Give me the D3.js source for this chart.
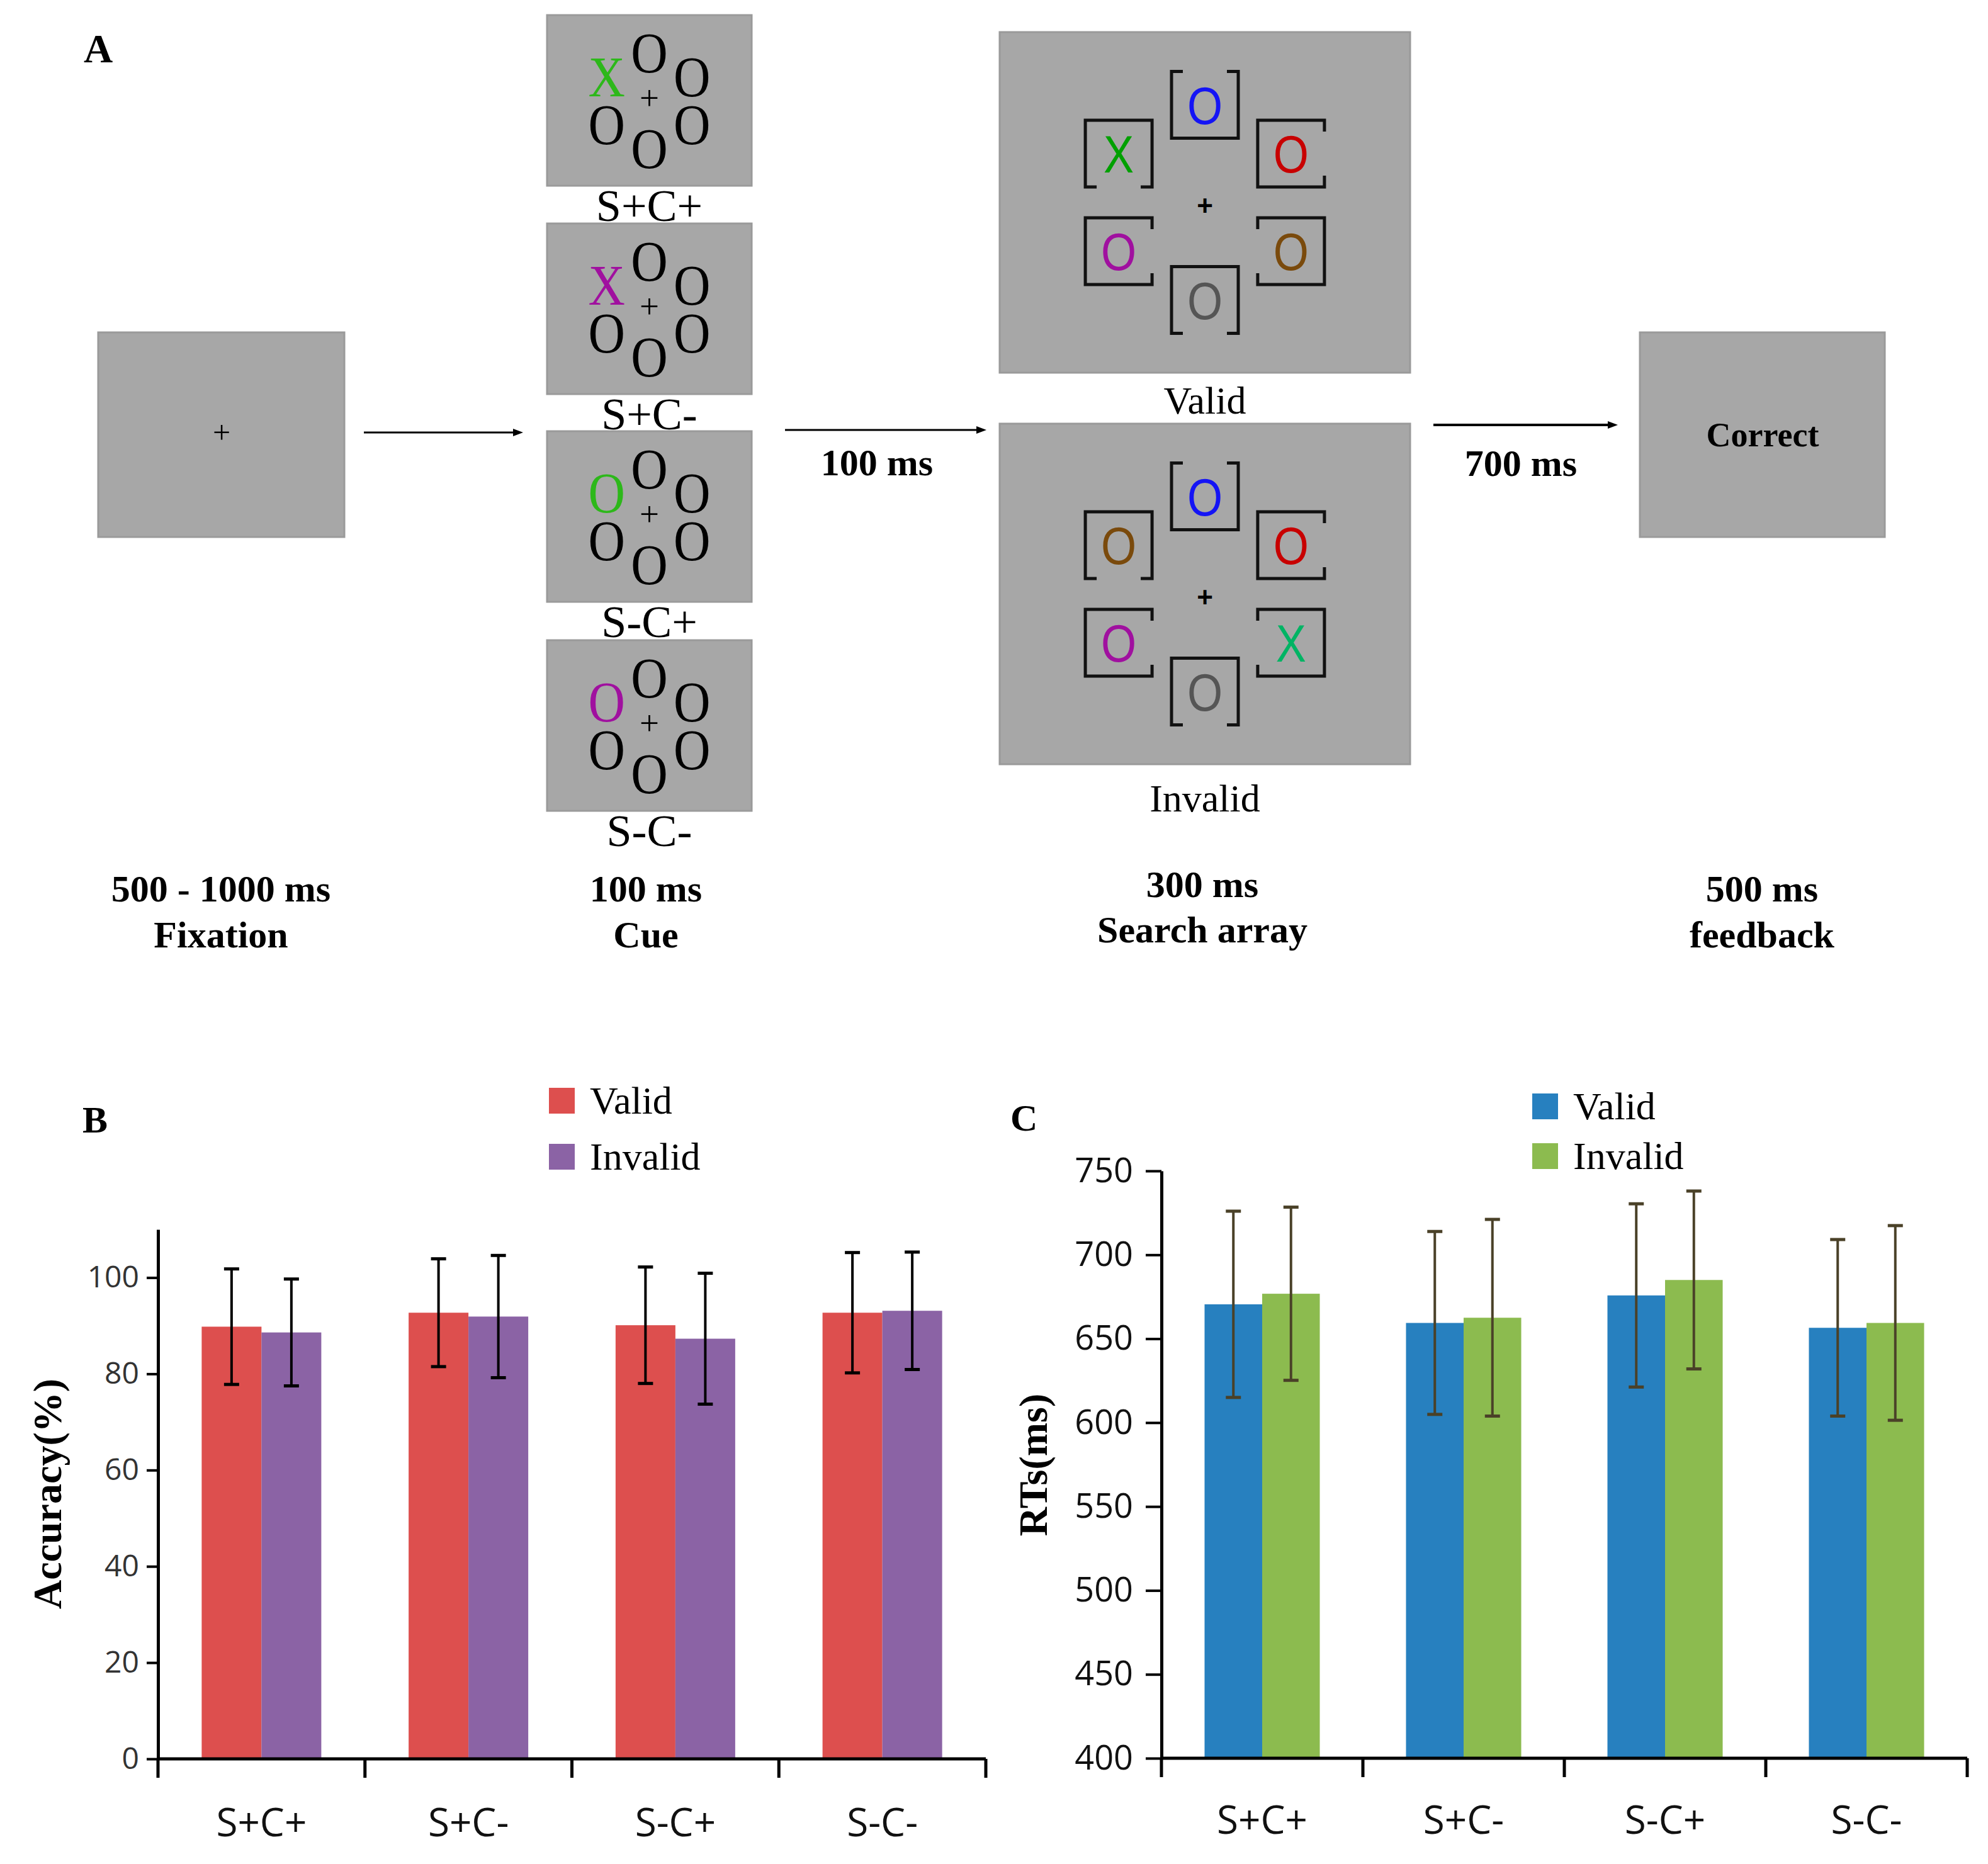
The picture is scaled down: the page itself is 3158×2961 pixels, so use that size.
<!DOCTYPE html>
<html>
<head>
<meta charset="utf-8">
<script src="https://cdn.jsdelivr.net/npm/d3@7"></script>
<style>
  body { margin: 0; background: #fff; }
  text { font-family: "Liberation Serif", "Times New Roman", serif; }
  text.sans { font-family: "Open Sans", "Noto Sans", sans-serif; }
  text.arial { font-family: "Liberation Sans", Arial, sans-serif; }
</style>
</head>
<body>
<div id="chart"></div>
<script>
// ---------- data ----------
const conditions = ["S+C+", "S+C-", "S-C+", "S-C-"];
const groups = ["Valid", "Invalid"];

// panel B: accuracy (%)
const accValid = [89.8, 92.7, 90.1, 92.7];
const accInvalid = [88.6, 91.9, 87.3, 93.1];
const accValidErr = [12.0, 11.2, 12.1, 12.5];
const accInvalidErr = [11.1, 12.7, 13.6, 12.2];
const accTicks = [0, 20, 40, 60, 80, 100];

// panel C: reaction times (ms)
const rtValid = [670.5, 659.4, 675.8, 656.5];
const rtInvalid = [676.8, 662.5, 685.0, 659.4];
const rtValidErr = [55.5, 54.5, 54.6, 52.6];
const rtInvalidErr = [51.6, 58.6, 53.0, 58.0];
const rtTicks = [400, 450, 500, 550, 600, 650, 700, 750];

// panel A: procedure
const stageTimes = ["500 - 1000 ms", "100 ms", "300 ms", "500 ms"];
const stageNames = ["Fixation", "Cue", "Search array", "feedback"];
const intervalLabels = ["100 ms", "700 ms"];
const cueTargetLetters = ["X", "X", "O", "O"];
const cueTargetColors = ["#2db81a", "#a0109f", "#2db81a", "#a0109f"];
const arrayNames = ["Valid", "Invalid"];
// hexagon order: top, upper-right, lower-right, bottom, lower-left, upper-left
const hexAngles = [90, 30, -30, -90, -150, 150];
const frameGaps = ["top", "right", "left", "bottom", "right", "bottom"];
const validLetters = ["O", "O", "O", "O", "O", "X"];
const validColors = ["#1414f5", "#c80000", "#7a4a0c", "#555555", "#a0109f", "#00a000"];
const invalidLetters = ["O", "O", "X", "O", "O", "O"];
const invalidColors = ["#1414f5", "#c80000", "#00b464", "#555555", "#a0109f", "#7a4a0c"];

// ---------- svg ----------
const W = 3158, H = 2961;
const svg = d3.select("#chart").append("svg")
    .attr("width", W)
    .attr("height", H);
svg.append("rect").attr("width", W).attr("height", H).attr("fill", "#fff");

const boxFill = "#a7a7a7", boxStroke = "#9a9a9a";

function grayBox(x, y, w, h) {
    svg.append("rect")
        .attr("x", x).attr("y", y).attr("width", w).attr("height", h)
        .attr("fill", boxFill).attr("stroke", boxStroke).attr("stroke-width", 3);
}

function arrow(x1, x2, y, sw) {
    svg.append("line")
        .attr("x1", x1).attr("x2", x2 - 12).attr("y1", y).attr("y2", y)
        .attr("stroke", "#000").attr("stroke-width", sw);
    svg.append("path")
        .attr("d", `M${x2},${y} L${x2 - 16},${y - 6} L${x2 - 16},${y + 6} Z`)
        .attr("fill", "#000");
}

function label(txt, x, y, size, bold, anchor) {
    return svg.append("text")
        .attr("x", x).attr("y", y)
        .attr("font-size", size)
        .attr("font-weight", bold ? "bold" : "normal")
        .attr("text-anchor", anchor || "middle")
        .attr("fill", "#000")
        .text(txt);
}

// ---------- panel A ----------
label("A", 133, 99, 64, true, "start");

// fixation
grayBox(156, 528, 391, 325);
label("+", 352, 692 + 12, 50, false);
arrow(578, 831, 687, 3);

// cue displays
const cueX = 869, cueW = 325, cueH = 271;
const cueTops = [24, 355, 685, 1017];
conditions.forEach((c, i) => {
    const y0 = cueTops[i];
    grayBox(cueX, y0, cueW, cueH);
    const cx = cueX + cueW / 2, cy = y0 + cueH / 2;
    label("+", cx, cy + 14, 55, false);
    hexAngles.forEach((a, k) => {
        const r = 76;
        const px = cx + r * 1.03 * Math.cos(a * Math.PI / 180);
        const py = cy - r * Math.sin(a * Math.PI / 180);
        const isTarget = k === 5;
        svg.append("text")
            .attr("transform", `translate(${px},${py + 31}) scale(0.88,1)`)
            .attr("font-size", 92)
            .attr("text-anchor", "middle")
            .attr("fill", isTarget ? cueTargetColors[i] : "#000")
            .text(isTarget ? cueTargetLetters[i] : "O");
    });
    label(c, cx, y0 + cueH + 56, 72, false);
});

arrow(1247, 1567, 683, 3);
label(intervalLabels[0], 1393, 755, 60, true);

// search arrays
function framePath(cx, cy, h, gap, side) {
    const c = [[cx - h, cy - h], [cx + h, cy - h], [cx + h, cy + h], [cx - h, cy + h]];
    const k = { top: 0, right: 1, bottom: 2, left: 3 }[side];
    const a = c[k], b = c[(k + 1) % 4];
    const mx = (a[0] + b[0]) / 2, my = (a[1] + b[1]) / 2;
    const dx = Math.sign(b[0] - a[0]), dy = Math.sign(b[1] - a[1]);
    const pts = [[mx + dx * gap / 2, my + dy * gap / 2]];
    for (let i = 1; i <= 4; i++) pts.push(c[(k + i) % 4]);
    pts.push([mx - dx * gap / 2, my - dy * gap / 2]);
    return d3.line()(pts);
}

const arrX = 1588, arrW = 652, arrH = 541;
const arrTops = [51, 673];
const arrLetters = [validLetters, invalidLetters];
const arrColors = [validColors, invalidColors];
const arrLabelY = [657, 1289];
arrayNames.forEach((name, j) => {
    const y0 = arrTops[j];
    grayBox(arrX, y0, arrW, arrH);
    const cx = arrX + arrW / 2, cy = y0 + arrH / 2;
    svg.append("text")
        .attr("class", "arial")
        .attr("x", cx).attr("y", cy + 20)
        .attr("font-size", 44).attr("font-weight", "bold")
        .attr("text-anchor", "middle").text("+");
    hexAngles.forEach((a, k) => {
        const r = 155;
        const px = cx + r * 1.02 * Math.cos(a * Math.PI / 180);
        const py = cy - r * Math.sin(a * Math.PI / 180);
        svg.append("path")
            .attr("d", framePath(px, py, 53, 70, frameGaps[k]))
            .attr("fill", "none").attr("stroke", "#111").attr("stroke-width", 5);
        svg.append("text")
            .attr("class", "arial")
            .attr("transform", `translate(${px},${py + 30}) scale(0.88,1.02)`)
            .attr("font-size", 82)
            .attr("text-anchor", "middle")
            .attr("fill", arrColors[j][k])
            .text(arrLetters[j][k]);
    });
    label(name, cx, arrLabelY[j], 62, false);
});

arrow(2277, 2570, 675, 4);
label(intervalLabels[1], 2416, 756, 60, true);

// feedback
grayBox(2605, 528, 389, 325);
label("Correct", 2800, 709, 54, true);

// stage labels
const stageX = [351, 1026, 1910, 2799];
const timeY = [1432, 1432, 1425, 1432];
const nameY = [1505, 1505, 1497, 1505];
stageTimes.forEach((t, i) => {
    label(t, stageX[i], timeY[i], 60, true);
    label(stageNames[i], stageX[i], nameY[i], 60, true);
});

// ---------- panels B and C ----------
function drawBarPanel(p) {
    const x0 = d3.scaleBand().domain(conditions).range([p.left, p.right]);
    const bw = x0.bandwidth();
    const x1 = d3.scaleBand().domain(groups)
        .range([bw * (1 - p.pair) / 2, bw * (1 + p.pair) / 2]);
    const y = d3.scaleLinear().domain(p.domain).range([p.bottom, p.top]);
    const color = d3.scaleOrdinal().domain(groups).range(p.colors);

    const rows = conditions.map((c, i) => ({
        cond: c,
        vals: [
            { g: "Valid", v: p.valid[i], e: p.validErr[i] },
            { g: "Invalid", v: p.invalid[i], e: p.invalidErr[i] }
        ]
    }));

    const g = svg.append("g");

    // bars
    const grp = g.selectAll(".grp")
        .data(rows)
        .enter().append("g")
        .attr("transform", d => `translate(${x0(d.cond)},0)`);

    grp.selectAll("rect")
        .data(d => d.vals)
        .enter().append("rect")
        .attr("x", d => x1(d.g))
        .attr("y", d => y(d.v))
        .attr("width", x1.bandwidth())
        .attr("height", d => y(p.domain[0]) - y(d.v))
        .attr("fill", d => color(d.g));

    // error bars
    const eb = grp.selectAll(".err")
        .data(d => d.vals)
        .enter().append("g")
        .attr("stroke", p.errColor)
        .attr("stroke-width", 4);
    eb.append("line")
        .attr("x1", d => x1(d.g) + x1.bandwidth() / 2)
        .attr("x2", d => x1(d.g) + x1.bandwidth() / 2)
        .attr("y1", d => y(d.v - d.e))
        .attr("y2", d => y(d.v + d.e));
    [-1, 1].forEach(s => {
        eb.append("line")
            .attr("x1", d => x1(d.g) + x1.bandwidth() / 2 - 12)
            .attr("x2", d => x1(d.g) + x1.bandwidth() / 2 + 12)
            .attr("y1", d => y(d.v + s * d.e))
            .attr("y2", d => y(d.v + s * d.e))
            .attr("stroke-width", 5);
    });

    // y axis
    const yAxis = g.append("g")
        .attr("transform", `translate(${p.left},0)`)
        .call(d3.axisLeft(y).tickValues(p.ticks).tickSize(p.tickLen)
            .tickSizeOuter(0).tickPadding(p.tickPad));
    yAxis.select(".domain").attr("stroke", "#000").attr("stroke-width", 5);
    yAxis.selectAll(".tick line").attr("stroke", "#000").attr("stroke-width", 4);
    yAxis.selectAll(".tick text")
        .attr("class", "sans")
        .attr("font-size", p.tickFont)
        .attr("fill", p.tickColor);

    // x axis
    g.append("line")
        .attr("x1", p.left).attr("x2", p.right)
        .attr("y1", y(p.domain[0])).attr("y2", y(p.domain[0]))
        .attr("stroke", "#000").attr("stroke-width", 5);
    const bounds = conditions.map(c => x0(c)).concat([x0.range()[1]]);
    g.selectAll(".xtick")
        .data(bounds)
        .enter().append("line")
        .attr("x1", d => d).attr("x2", d => d)
        .attr("y1", y(p.domain[0])).attr("y2", y(p.domain[0]) + 30)
        .attr("stroke", "#000").attr("stroke-width", 5);
    g.selectAll(".xlab")
        .data(conditions)
        .enter().append("text")
        .attr("class", "sans")
        .attr("x", d => x0(d) + bw / 2)
        .attr("y", p.catY)
        .attr("text-anchor", "middle")
        .attr("font-size", 62)
        .attr("fill", "#111")
        .text(d => d);

    // axis title
    g.append("text")
        .attr("transform", `translate(${p.titleX},${p.titleY}) rotate(-90)`)
        .attr("y", 20)
        .attr("text-anchor", "middle")
        .attr("font-size", 64)
        .attr("font-weight", "bold")
        .text(p.title);

    // panel letter
    label(p.letter, p.letterX, p.letterY, 60, true, "start");

    // legend
    groups.forEach((name, i) => {
        g.append("rect")
            .attr("x", p.legX).attr("y", p.legY[i] - 41)
            .attr("width", 41).attr("height", 41)
            .attr("fill", color(name));
        g.append("text")
            .attr("x", p.legX + 65).attr("y", p.legY[i])
            .attr("font-size", 62)
            .text(name);
    });
}

drawBarPanel({
    left: 251, right: 1566, top: 1953, bottom: 2794,
    domain: [0, 110], ticks: accTicks, pair: 0.578,
    valid: accValid, invalid: accInvalid,
    validErr: accValidErr, invalidErr: accInvalidErr,
    colors: ["#dd4f4e", "#8b63a5"], errColor: "#000",
    tickLen: 18, tickPad: 12, tickFont: 48, tickColor: "#333",
    catY: 2917, title: "Accuracy(%)", titleX: 77, titleY: 2373,
    letter: "B", letterX: 131, letterY: 1799,
    legX: 872, legY: [1769, 1858]
});

drawBarPanel({
    left: 1845, right: 3125, top: 1860, bottom: 2793,
    domain: [400, 750], ticks: rtTicks, pair: 0.572,
    valid: rtValid, invalid: rtInvalid,
    validErr: rtValidErr, invalidErr: rtInvalidErr,
    colors: ["#2780bf", "#8cbb4f"], errColor: "#4a4128",
    tickLen: 25, tickPad: 20, tickFont: 54, tickColor: "#111",
    catY: 2913, title: "RTs(ms)", titleX: 1643, titleY: 2327,
    letter: "C", letterX: 1605, letterY: 1796,
    legX: 2434, legY: [1778, 1857]
});
</script>
</body>
</html>
